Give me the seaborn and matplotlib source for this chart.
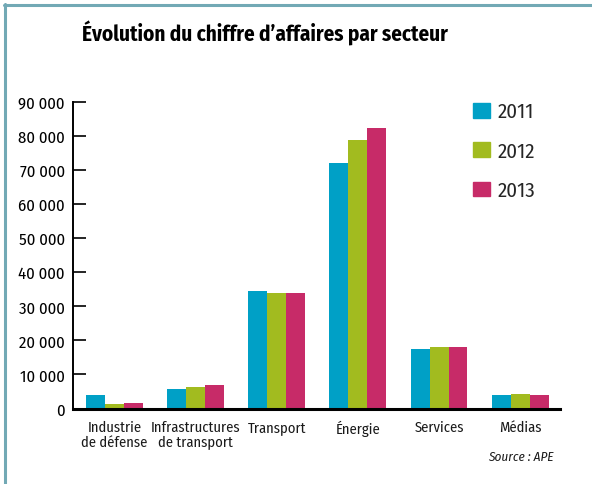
import matplotlib
matplotlib.use("Agg")
import matplotlib.pyplot as plt
from matplotlib.lines import Line2D
from matplotlib.ticker import FuncFormatter
import seaborn as sns
import pandas as pd

# data
secteurs = ["Industrie\nde défense", "Infrastructures\nde transport", "Transport",
            "Énergie", "Services", "Médias"]
annees = ["2011", "2012", "2013"]
ca_2011 = [3900, 5600, 34400, 71900, 17400, 3900]
ca_2012 = [1300, 6300, 33800, 78700, 18000, 4200]
ca_2013 = [1600, 6900, 33800, 82200, 18000, 3900]
couleurs = ["#00a0c6", "#a2bb1f", "#c72b68"]

rows = []
for an, vals in zip(annees, [ca_2011, ca_2012, ca_2013]):
    for s, v in zip(secteurs, vals):
        rows.append({"secteur": s, "annee": an, "ca": v})
df = pd.DataFrame(rows)

sns.set_style("white")
plt.rcParams["font.family"] = ["Fira Sans Condensed", "DejaVu Sans"]

fig = plt.figure(figsize=(5.92, 4.85), dpi=100)
ax = fig.add_axes([73 / 592, 1 - 409.5 / 485, 487 / 592, 307 / 485])

sns.barplot(data=df, x="secteur", y="ca", hue="annee", palette=couleurs,
            width=0.7, gap=0, saturation=1, linewidth=0, ax=ax, legend=False)

ax.set_xlim(-0.51, 5.49)
ax.set_ylim(0, 90000)
ax.set_yticks(range(0, 90001, 10000))
ax.yaxis.set_major_formatter(FuncFormatter(lambda v, p: f"{int(v):,}".replace(",", " ")))
ax.set_xlabel("")
ax.set_ylabel("")

for side in ["top", "right"]:
    ax.spines[side].set_visible(False)
ax.spines["left"].set_linewidth(1.4)
ax.spines["left"].set_color("black")
ax.spines["bottom"].set_linewidth(2.2)
ax.spines["bottom"].set_color("black")

ax.tick_params(axis="y", direction="in", length=9.5, width=1.2, labelsize=12, pad=6,
               left=True, colors="black")
ax.tick_params(axis="x", length=0, labelsize=10.5, pad=8, colors="#1a1a1a")
for lab in ax.get_xticklabels():
    lab.set_linespacing(1.05)

handles = [plt.Rectangle((0, 0), 1, 1, color=c) for c in couleurs]
fig.legend(handles, annees, loc="upper left", bbox_to_anchor=(473 / 592, 1 - 103 / 485),
           frameon=False, fontsize=15, handlelength=0.8, handleheight=0.7,
           handletextpad=0.4, labelspacing=0.95, borderpad=0, borderaxespad=0)

fig.text(265 / 592, 1 - 33 / 485, "Évolution du chiffre d’affaires par secteur",
         ha="center", va="center", fontsize=15.2, fontweight="bold", color="black")
fig.text(554 / 592, 1 - 457 / 485, "Source : APE", ha="right", va="center",
         fontsize=9.5, style="italic", color="#1a1a1a")

# cadre
fig.add_artist(Line2D([4.5 / 592, 4.5 / 592], [0, 1 - 4.5 / 485], color="#72a9b5", lw=2.2,
                      transform=fig.transFigure))
fig.add_artist(Line2D([3.5 / 592, 1], [1 - 6 / 485, 1 - 6 / 485], color="#72a9b5", lw=2.2,
                      transform=fig.transFigure))

fig.savefig("out.png", dpi=100)
